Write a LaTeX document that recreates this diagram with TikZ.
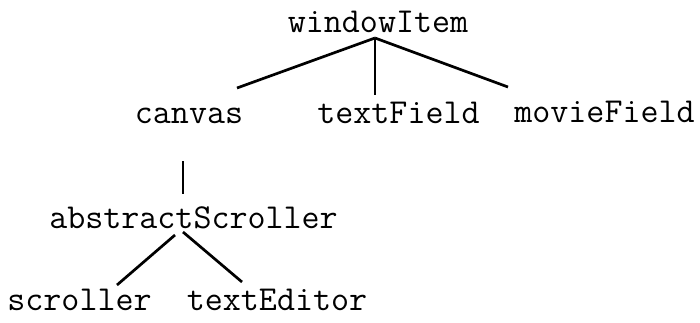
\documentclass[tikz,border=0pt]{standalone}
\usepackage{fontspec}
\usepackage{tikz}

\begin{document}
\begin{tikzpicture}[x = 1pt, y = 1pt,
cls/.style = {anchor=base, inner sep=0pt, font=\fontsize{35}{40}\selectfont\ttfamily},
branch/.style = {line width=2.7pt}]
\useasboundingbox (0,0) rectangle (700,322);

\node[cls] (windowItem) at (378,289) {windowItem};
\node[cls] (canvas) at (189,199) {canvas};
\node[cls] (textField) at (398.5,199) {textField};
\node[cls] (movieField) at (604.5,200) {movieField};
\node[cls] (abstractScroller) at (193.5,94) {abstractScroller};
\node[cls] (scroller) at (79.5,12) {scroller};
\node[cls] (textEditor) at (277,12) {textEditor};

\draw[branch] ([shift={(-3,-5)}]windowItem.base) -- ([shift={(48,35)}]canvas.base);
\draw[branch] ([shift={(-3,-5)}]windowItem.base) -- ([shift={(-23.5,28)}]textField.base);
\draw[branch] ([shift={(-3,-5)}]windowItem.base) -- ([shift={(-96.5,35)}]movieField.base);

\draw[branch] ([shift={(-6,-38)}]canvas.base) -- ([shift={(-10.5,34)}]abstractScroller.base);

\draw[branch] ([shift={(-18.5,-7)}]abstractScroller.base) -- ([shift={(37.5,25)}]scroller.base);
\draw[branch] ([shift={(-10.5,-4)}]abstractScroller.base) -- ([shift={(-35,28)}]textEditor.base);
\end{tikzpicture}
\end{document}
